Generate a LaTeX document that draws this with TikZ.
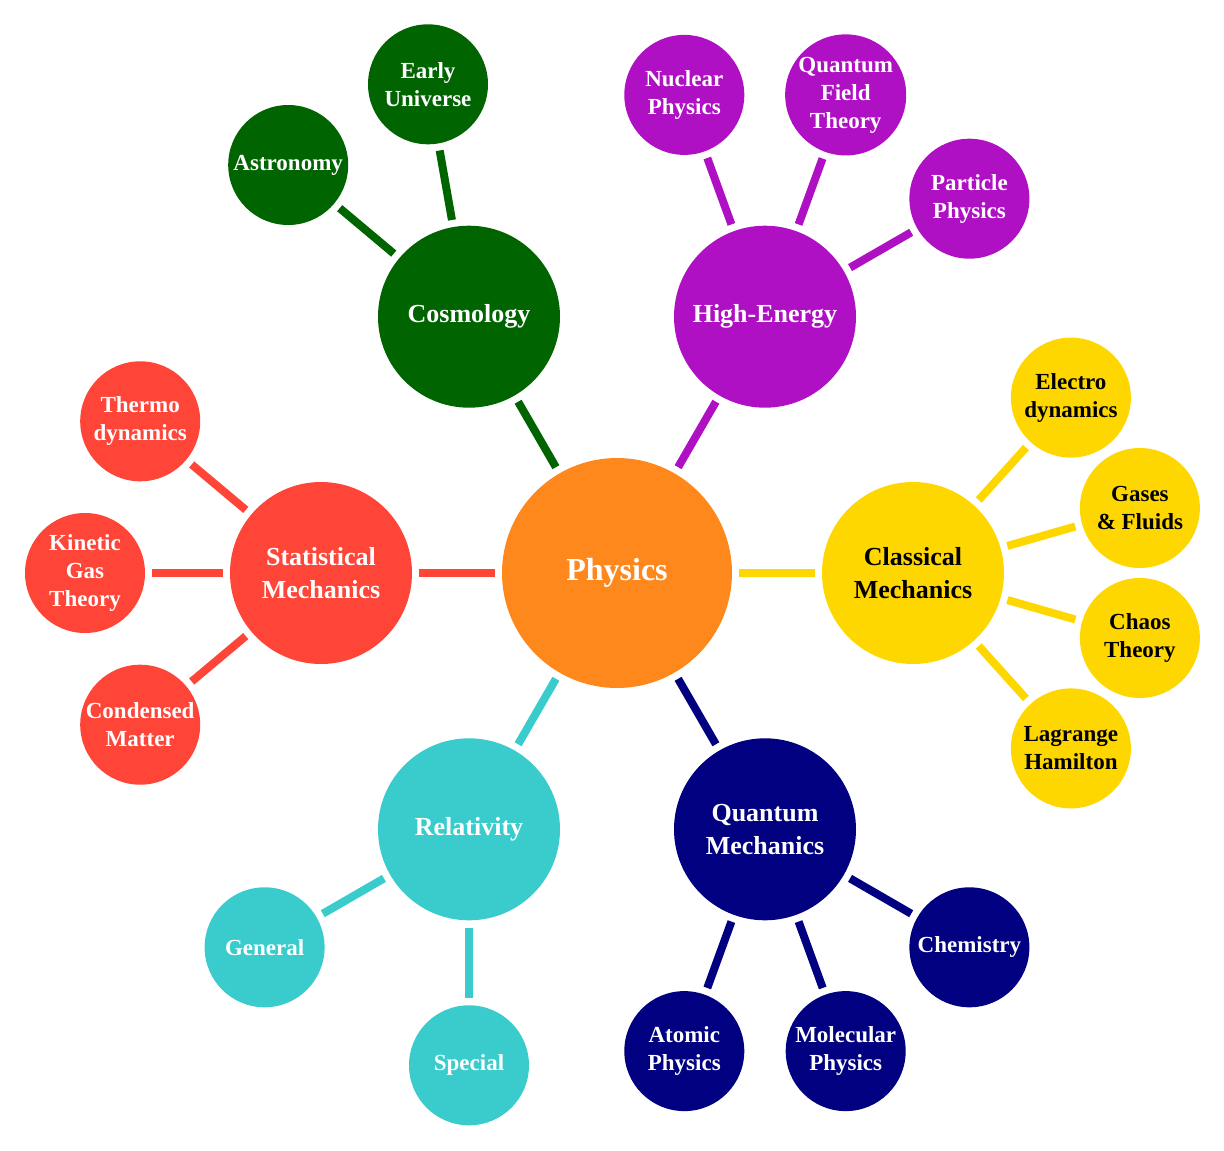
\documentclass[tikz,border=0pt]{standalone}
\usepackage{fontspec}
\setmainfont{Liberation Serif}
\definecolor{corange}{RGB}{255,136,28}
\definecolor{cgreen}{RGB}{0,100,0}
\definecolor{cmag}{RGB}{176,16,196}
\definecolor{cgold}{RGB}{255,215,0}
\definecolor{cnavy}{RGB}{0,0,128}
\definecolor{cteal}{RGB}{58,204,204}
\definecolor{cred}{RGB}{255,68,56}
\begin{document}
\begin{tikzpicture}[x=1pt,y=-1pt,
  rootnode/.style={circle, fill=corange, minimum size=230pt, inner sep=0pt, text=white,
    font=\bfseries\fontsize{32}{36}\selectfont},
  lvlone/.style={circle, minimum size=182pt, inner sep=0pt, align=center, text=white,
    font=\bfseries\fontsize{26}{33}\selectfont},
  lvltwo/.style={circle, minimum size=120pt, inner sep=0pt, align=center, text=white,
    font=\bfseries\fontsize{23}{28}\selectfont},
  link/.style={line width=8pt, shorten <=7pt, shorten >=7pt}]
\useasboundingbox (0,0) rectangle (1224,1151);

% root
\node[rootnode] (phys) at (617,573) {Physics};

% level one
\node[lvlone, fill=cgreen] (cosmo) at (469,316.7) {Cosmology};
\node[lvlone, fill=cmag] (high) at (765,316.7) {High-Energy};
\node[lvlone, fill=cgold, text=black] (class) at (913,573) {Classical\\Mechanics};
\node[lvlone, fill=cnavy] (quant) at (765,829.3) {Quantum\\Mechanics};
\node[lvlone, fill=cteal] (rel) at (469,829.3) {Relativity};
\node[lvlone, fill=cred] (stat) at (321,573) {Statistical\\Mechanics};

% level two: cosmology
\node[lvltwo, fill=cgreen] (astro) at (288.2,165.0) {Astronomy};
\node[lvltwo, fill=cgreen] (early) at (428.0,84.3) {Early\\Universe};
% high-energy
\node[lvltwo, fill=cmag] (nucl) at (684.3,94.9) {Nuclear\\Physics};
\node[lvltwo, fill=cmag] (qft) at (845.7,94.9) {Quantum\\Field\\Theory};
\node[lvltwo, fill=cmag] (part) at (969.4,198.7) {Particle\\Physics};
% classical
\node[lvltwo, fill=cgold, text=black] (electro) at (1070.9,397.6) {Electro\\dynamics};
\node[lvltwo, fill=cgold, text=black] (gases) at (1139.9,508.0) {Gases\\\& Fluids};
\node[lvltwo, fill=cgold, text=black] (chaos) at (1139.9,638.0) {Chaos\\Theory};
\node[lvltwo, fill=cgold, text=black] (lagr) at (1070.9,748.4) {Lagrange\\Hamilton};
% quantum
\node[lvltwo, fill=cnavy] (atomic) at (684.3,1051.1) {Atomic\\Physics};
\node[lvltwo, fill=cnavy] (molec) at (845.7,1051.1) {Molecular\\Physics};
\node[lvltwo, fill=cnavy] (chem) at (969.4,947.3) {Chemistry};
% relativity
\node[lvltwo, fill=cteal] (general) at (264.6,947.3) {General};
\node[lvltwo, fill=cteal] (special) at (469,1065.3) {Special};
% statistical
\node[lvltwo, fill=cred] (thermo) at (140.2,421.3) {Thermo\\dynamics};
\node[lvltwo, fill=cred] (kinetic) at (85,573) {Kinetic\\Gas\\Theory};
\node[lvltwo, fill=cred] (conden) at (140.2,724.7) {Condensed\\Matter};

% links root
\draw[link, cgreen] (phys) -- (cosmo);
\draw[link, cmag] (phys) -- (high);
\draw[link, cgold] (phys) -- (class);
\draw[link, cnavy] (phys) -- (quant);
\draw[link, cteal] (phys) -- (rel);
\draw[link, cred] (phys) -- (stat);
% links level two
\draw[link, cgreen] (cosmo) -- (astro);
\draw[link, cgreen] (cosmo) -- (early);
\draw[link, cmag] (high) -- (nucl);
\draw[link, cmag] (high) -- (qft);
\draw[link, cmag] (high) -- (part);
\draw[link, cgold] (class) -- (electro);
\draw[link, cgold] (class) -- (gases);
\draw[link, cgold] (class) -- (chaos);
\draw[link, cgold] (class) -- (lagr);
\draw[link, cnavy] (quant) -- (atomic);
\draw[link, cnavy] (quant) -- (molec);
\draw[link, cnavy] (quant) -- (chem);
\draw[link, cteal] (rel) -- (general);
\draw[link, cteal] (rel) -- (special);
\draw[link, cred] (stat) -- (thermo);
\draw[link, cred] (stat) -- (kinetic);
\draw[link, cred] (stat) -- (conden);
\end{tikzpicture}
\end{document}
